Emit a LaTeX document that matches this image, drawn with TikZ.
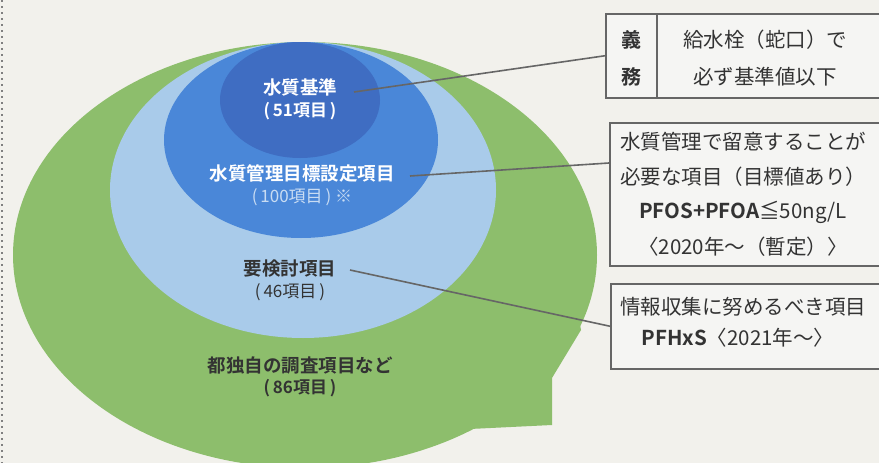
\documentclass[tikz,border=0pt]{standalone}
\usepackage{fontspec}
\setmainfont{Noto Sans CJK JP}[BoldFont={Noto Sans CJK JP Bold}]
\definecolor{bgc}{HTML}{F2F1EC}
\definecolor{greenc}{HTML}{8DBE6C}
\definecolor{lightb}{HTML}{A9CBEA}
\definecolor{midb}{HTML}{4A87D8}
\definecolor{darkb}{HTML}{3F6DC2}
\definecolor{linec}{HTML}{666666}
\definecolor{txtc}{HTML}{333333}
\definecolor{boxfill}{HTML}{F5F5F3}
\definecolor{palew}{HTML}{C9DCF3}
\tikzset{
  wlab/.style={text=white, font=\fontsize{18.5pt}{20pt}\selectfont\bfseries, inner sep=0pt},
  dlab/.style={text=txtc, font=\fontsize{18.5pt}{20pt}\selectfont\bfseries, inner sep=0pt},
  numlab/.style={inner sep=0pt, font=\fontsize{17pt}{18pt}\selectfont},
  conn/.style={draw=linec, line width=1.6pt},
  infobox/.style={draw=linec, line width=1.5pt, fill=boxfill, rectangle, inner sep=0pt, anchor=north west},
  btxt/.style={text=txtc, font=\fontsize{20.5pt}{22pt}\selectfont, inner sep=0pt},
  dotline/.style={draw=gray, line width=1.6pt, dash pattern=on 1.6pt off 4.4pt}
}
\begin{document}
\begin{tikzpicture}[x=1pt,y=-1pt]
\useasboundingbox (0,0) rectangle (879,463);
\fill[bgc] (0,0) rectangle (879,463);
\clip (0,0) rectangle (879,463);
\draw[dotline] (2,0) -- (2,463);
% nested shapes
\fill[greenc] (305,255) ellipse [x radius=292pt, y radius=213pt];
\fill[greenc] (575,300) -- (581,330) -- (552,378) -- (552,425) -- (470,429) -- (450,400) -- cycle;
\fill[lightb] (303,190) ellipse [x radius=193pt, y radius=148pt];
\fill[midb] (301,140) ellipse [x radius=137pt, y radius=98pt];
\fill[darkb] (300,100) ellipse [x radius=80pt, y radius=58pt];
% boxes
\node[infobox, minimum width=300pt, minimum height=84pt] (b1) at (605,13) {};
\node[infobox, minimum width=300pt, minimum height=143pt] (b2) at (609,122) {};
\node[infobox, minimum width=300pt, minimum height=85pt] (b3) at (610,283) {};
\draw[draw=linec, line width=1.5pt] ([xshift=52pt]b1.north west) -- ([xshift=52pt]b1.south west);
% connector anchors
\coordinate (c1s) at (354,92);
\coordinate (c2s) at (410,176);
\coordinate (c3s) at (350,270);
\coordinate (c2e) at ([yshift=-41pt]b2.north west);
\draw[conn] (c1s) -- (b1.west);
\draw[conn] (c2s) -- (c2e);
\draw[conn] (c3s) -- (b3.west);
% labels in shapes
\node[wlab] (l1) at (300,87) {水質基準};
\node[numlab, text=white, font=\fontsize{17pt}{18pt}\selectfont\bfseries] (l1n) at (300,111) {(\,51項目\,)};
\node[wlab] (l2) at (302,173) {水質管理目標設定項目};
\node[numlab, text=palew] (l2n) at (302,197) {(\,100項目\,)\ ※};
\node[dlab] (l3) at (290,269) {要検討項目};
\node[numlab, text=txtc] (l3n) at (290,292) {(\,46項目\,)};
\node[dlab] (l4) at (300,365) {都独自の調査項目など};
\node[numlab, text=txtc, font=\fontsize{17pt}{18pt}\selectfont\bfseries] (l4n) at (300,388) {(\,86項目\,)};
% box texts
\node[btxt, font=\fontsize{20pt}{22pt}\selectfont\bfseries] (g1) at (631,40) {義};
\node[btxt, font=\fontsize{20pt}{22pt}\selectfont\bfseries] (g2) at (631,77) {務};
\node[btxt] (t11) at (765,40) {給水栓（蛇口）で};
\node[btxt] (t12) at (765,77) {必ず基準値以下};
\node[btxt] (t21) at (743,142) {水質管理で留意することが};
\node[btxt] (t22) at (743,177) {必要な項目（目標値あり）};
\node[btxt] (t23) at (743,212) {{\bfseries PFOS+PFOA}≦50ng/L};
\node[btxt] (t24) at (743,247) {〈2020年〜（暫定）〉};
\node[btxt] (t31) at (743,307) {情報収集に努めるべき項目};
\node[btxt] (t32) at (738,338) {{\bfseries PFHxS}〈2021年〜〉};
\end{tikzpicture}
\end{document}
